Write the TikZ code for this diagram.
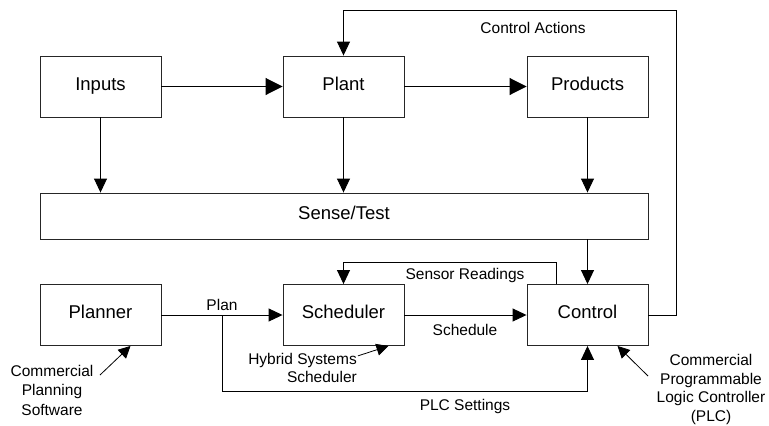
\documentclass[tikz,border=0pt]{standalone}
\usepackage{fontspec}
\setmainfont{Liberation Sans}
\usetikzlibrary{arrows.meta}

\begin{document}
\begin{tikzpicture}[
	x=1pt, y=-1pt,
	block/.style={
		rectangle,
		draw=black!85,
		line width=0.9pt,
		minimum width=121pt,
		minimum height=61pt,
		inner sep=0pt,
		text height=13.3pt,
		text depth=6.3pt,
		font=\fontsize{18.5}{22}\selectfont
	},
	wide/.style={
		block,
		minimum width=608pt,
		minimum height=46pt
	},
	lbl/.style={
		inner sep=0pt,
		anchor=base,
		font=\fontsize{15.5}{18.5}\selectfont
	},
	flow/.style={
		line width=0.9pt,
		-{Triangle[length=14pt, width=13pt]}
	},
	bigflow/.style={
		line width=0.9pt,
		-{Triangle[length=17pt, width=17pt]}
	},
	note/.style={
		line width=0.8pt,
		-{Triangle[length=12pt, width=12pt]}
	}
	]
	\useasboundingbox (0,0) rectangle (769,426);

	% process row
	\node[block] (inputs) at (100.5,86.5) {Inputs};
	\node[block] (plant) at (343.5,86.5) {Plant};
	\node[block] (products) at (587.5,86.5) {Products};
	\node[wide] (sense) at (344,216) {Sense/Test};

	% decision row
	\node[block] (planner) at (100.5,315) {Planner};
	\node[block] (scheduler) at (343.5,315) {Scheduler};
	\node[block] (control) at (587.5,315) {Control};

	\draw[bigflow] (inputs.east) -- (plant.west);
	\draw[bigflow] (plant.east) -- (products.west);

	\foreach \n in {inputs, plant, products}{
		\draw[flow] (\n.south) -- (\n |- sense.north);
	}
	\draw[flow] (control |- sense.south) -- (control.north);

	% feedback to the plant
	\coordinate (ctop) at (676.5,10);
	\draw[flow] (control.east) -| (ctop) -| (plant.north);
	\node[lbl] (actions) at (533,33.3) {Control Actions};

	% feedback to the scheduler
	\coordinate (sread) at (556.5,262);
	\draw[flow] (sread |- control.north) -- (sread) -| (scheduler.north);
	\node[lbl] (readings) at (465,279) {Sensor Readings};

	\draw[flow] (planner.east) -- (scheduler.west);
	\node[lbl] (plan) at (222,310) {Plan};
	\draw[flow] (scheduler.east) -- (control.west);
	\node[lbl] (schedule) at (465,335) {Schedule};

	\coordinate (branch) at (222.5,315);
	\draw[flow] (branch) |- ++(365,76) -- (control.south);
	\node[lbl] (settings) at (465,410) {PLC Settings};

	% tools used for each part
	\node[lbl, anchor=center, align=center, font=\fontsize{15.5}{19.5}\selectfont] (cps) at (52,390) {Commercial\\Planning\\Software};
	\coordinate (cpstail) at (100,375);
	\draw[note] (cpstail) -- ([xshift=30pt]planner.south);

	\node[lbl, align=right, anchor=east] (hss) at (357,368) {Hybrid Systems\\Scheduler};
	\draw[note] (hss.north east) ++(1,3) -- ([xshift=45pt]scheduler.south);

	\node[lbl, anchor=center, align=center] (plc) at (711,389.5) {Commercial\\Programmable\\Logic Controller\\(PLC)};
	\coordinate (plctail) at (648,376);
	\draw[note] (plctail) -- ([xshift=30pt]control.south);
\end{tikzpicture}
\end{document}
